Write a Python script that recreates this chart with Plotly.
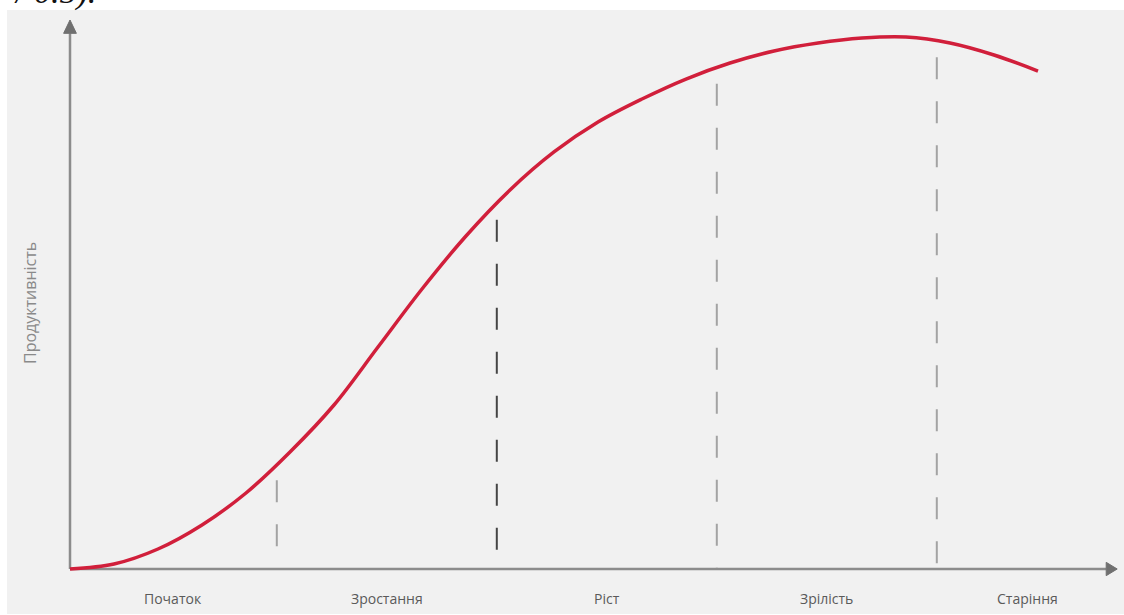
import numpy as np
import plotly.graph_objects as go

# ---- data ----
time = [0, 20, 40, 60, 80, 100, 120, 140, 160, 180, 200, 220, 240, 260, 280,
        300, 320, 340, 360, 380, 400, 420, 440]
productivity = [0, 0.94, 3.75, 8.26, 14.26, 21.95, 30.77, 41.65, 52.53, 62.48, 71.11,
                78.24, 83.86, 88.18, 91.93, 94.93, 97.19, 98.69, 99.62, 99.81, 98.69,
                96.44, 93.43]
stage_bounds = [94, 194, 294, 394]
stage_names = ["Початок", "Зростання", "Ріст", "Зрілість", "Старіння"]
axis_end_x = 476
axis_end_y = 103
y_title = "Продуктивність"

RED = "#d11f3b"
AX = "#8c8c8c"

fig = go.Figure()

# gray panel
fig.add_shape(type="rect", xref="paper", yref="paper", x0=7/1124, x1=1.0,
              y0=0.0015, y1=(615-10)/615, fillcolor="#f1f1f1", line_width=0, layer="below")

# dividers
div_colors = ["#a3a3a3", "#454545", "#a3a3a3", "#a3a3a3"]
for b, c in zip(stage_bounds, div_colors):
    top = float(np.interp(b, time, productivity)) - 3.0
    fig.add_trace(go.Scatter(x=[b, b], y=[top, 0], mode="lines",
                             line=dict(color=c, width=2, dash="22px,22px"),
                             hoverinfo="skip", showlegend=False))

# axes lines
fig.add_trace(go.Scatter(x=[0, 0], y=[0, axis_end_y - 2.5], mode="lines",
                         line=dict(color=AX, width=2.5), hoverinfo="skip", showlegend=False))
fig.add_trace(go.Scatter(x=[0, axis_end_x - 5], y=[0, 0], mode="lines",
                         line=dict(color=AX, width=2.5), hoverinfo="skip", showlegend=False))
# arrow heads
fig.add_shape(type="path",
              path=f"M {-2.9} {axis_end_y-2.5} L 0 {axis_end_y} L {2.9} {axis_end_y-2.5} Z",
              fillcolor="#707070", line=dict(color="#707070", width=1))
fig.add_shape(type="path",
              path=f"M {axis_end_x-5} {-1.25} L {axis_end_x} 0 L {axis_end_x-5} {1.25} Z",
              fillcolor="#707070", line=dict(color="#707070", width=1))

# curve
fig.add_trace(go.Scatter(x=time, y=productivity, mode="lines",
                         line=dict(color=RED, width=3.5, shape="spline", smoothing=1.0),
                         hoverinfo="skip", showlegend=False))

# stage labels
edges = [0] + stage_bounds + [axis_end_x]
for i, name in enumerate(stage_names):
    fig.add_annotation(x=(edges[i] + edges[i+1]) / 2, y=-5.6, text=name, showarrow=False,
                       font=dict(family="Open Sans", size=14, color="#5a5a5a"))

# y title
fig.add_annotation(xref="paper", yref="paper", x=17/1124, y=1 - 303/615, text=y_title,
                   textangle=-90, showarrow=False,
                   font=dict(family="Open Sans", size=16, color="#8a8a8a"))

# cut-off text on top
fig.add_annotation(xref="paper", yref="paper", x=98/1124, y=1 + 8/615, xanchor="right",
                   yanchor="middle", text="<i>/ 0.5).</i>", showarrow=False,
                   font=dict(family="Liberation Serif", size=34, color="#111111"))

fig.update_layout(
    width=1124, height=615, margin=dict(l=0, r=0, t=0, b=0),
    paper_bgcolor="white", plot_bgcolor="rgba(0,0,0,0)",
    xaxis=dict(range=[-70/2.2, (1124-70)/2.2], visible=False, fixedrange=True),
    yaxis=dict(range=[(569-615)/5.33, 569/5.33], visible=False, fixedrange=True),
    showlegend=False,
)

fig.write_html("out.html", config={"displayModeBar": False},
               post_script="document.body.style.margin='0';document.body.style.overflow='hidden';")
